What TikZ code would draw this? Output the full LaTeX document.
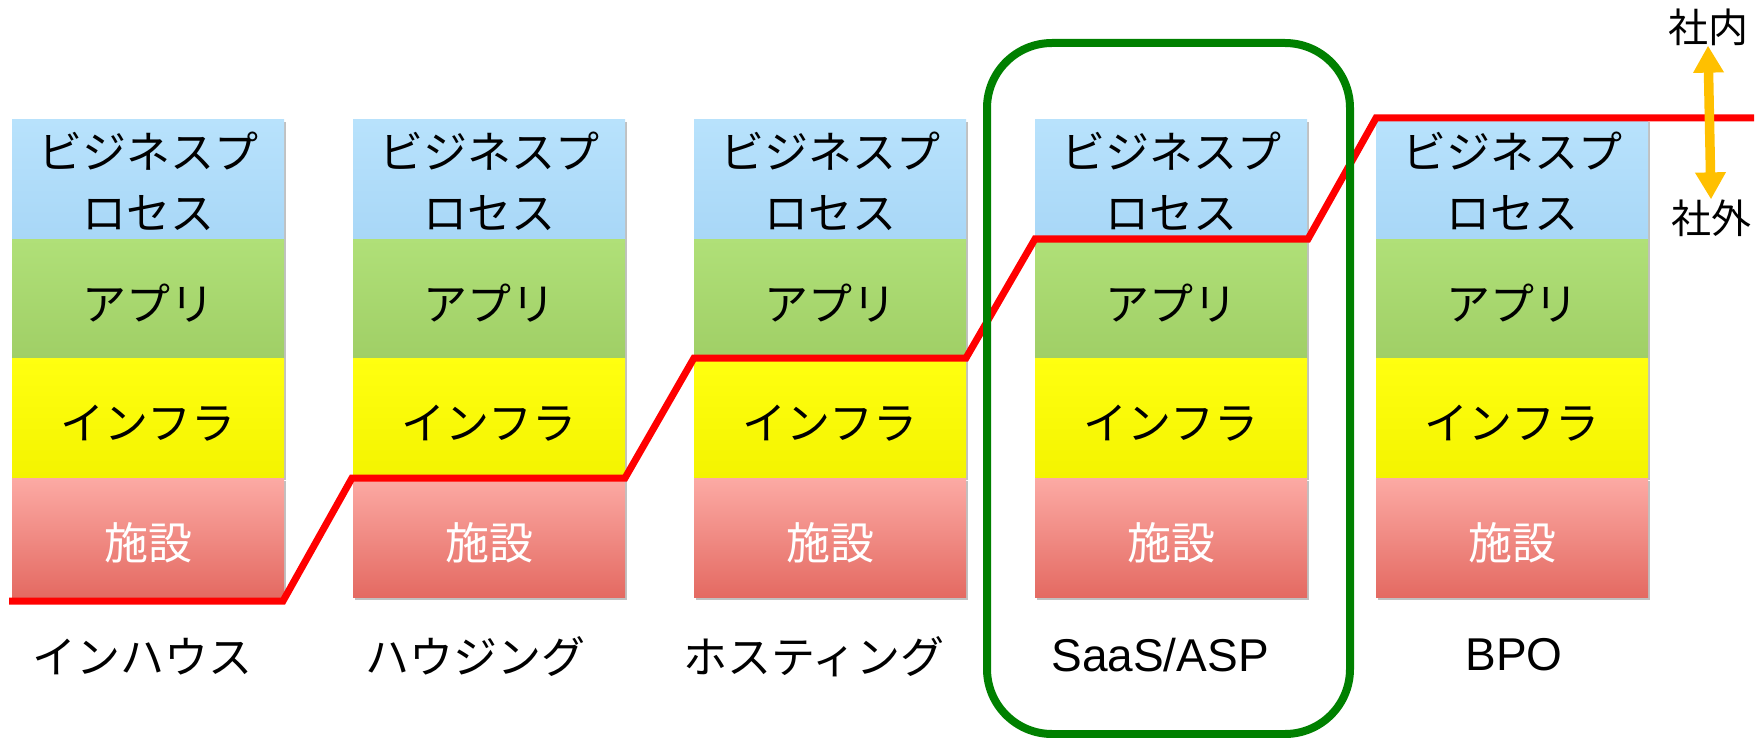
\documentclass[tikz,border=0pt]{standalone}
\usepackage{fontspec}
\setmainfont{Noto Sans CJK JP}
\newfontfamily\latinfont{Liberation Sans}
\usetikzlibrary{arrows.meta,shadows}
\definecolor{bpT}{HTML}{B8E2FC}
\definecolor{bpB}{HTML}{A8D7F7}
\definecolor{apT}{HTML}{B0E078}
\definecolor{apB}{HTML}{A0CF66}
\definecolor{inT}{HTML}{FFFF10}
\definecolor{inB}{HTML}{F4F400}
\definecolor{faT}{HTML}{FCAAA4}
\definecolor{faB}{HTML}{E46A62}
\definecolor{redline}{HTML}{FF0000}
\definecolor{saasgreen}{HTML}{008000}
\definecolor{arroworange}{HTML}{FFC000}
\newcommand{\jpbig}{\fontsize{44pt}{61pt}\selectfont}
\newcommand{\jpmid}{\fontsize{40pt}{48pt}\selectfont}
\newcommand{\ltbig}{\latinfont\fontsize{46pt}{52pt}\selectfont}
\newcommand{\lowered}[2]{\raisebox{-#1}[\height][\depth]{#2}}
\begin{document}
\begin{tikzpicture}[x=1pt,y=-1pt,
  layer/.style={anchor=north west, minimum width=272pt, minimum height=119pt,
    inner sep=0pt, outer sep=0pt, align=center, font=\jpbig,
    drop shadow={shadow xshift=1.5pt,shadow yshift=-2.5pt,opacity=0.35,fill=black!70}},
  bplayer/.style={layer, top color=bpT, bottom color=bpB},
  aplayer/.style={layer, top color=apT, bottom color=apB},
  inlayer/.style={layer, top color=inT, bottom color=inB},
  falayer/.style={layer, top color=faT, bottom color=faB, text=white},
  jplabel/.style={font=\jpbig, inner sep=0pt},
  ltlabel/.style={font=\ltbig, inner sep=0pt},
  sidelabel/.style={font=\jpmid, inner sep=0pt},
  stepline/.style={draw=redline, line width=7pt},
  saasframe/.style={draw=saasgreen, line width=8pt, rounded corners=65pt},
  dirarrow/.style={draw=arroworange, line width=9.5pt,
    {Triangle[width=29pt,length=27pt]}-{Triangle[width=29pt,length=27pt]}}
]
\useasboundingbox (0,0) rectangle (1764,738);

% columns of layers
\foreach \i in {1,...,5}{
  \pgfmathsetmacro{\xx}{12+341*(\i-1)}
  \node[bplayer] (bp\i)  at (\xx,120) {\lowered{2pt}{ビジネスプ}\\\lowered{2pt}{ロセス}};
  \node[aplayer] (ap\i)  at (\xx,239) {\lowered{5pt}{アプリ}};
  \node[inlayer] (in\i)  at (\xx,358) {\lowered{6pt}{インフラ}};
  \node[falayer] (fa\i)  at (\xx,478) {\lowered{5pt}{施設}};
}

% red boundary line
\draw[stepline] (9,601) -- (283,601) -- (352,478) -- (625,478) -- (694,358)
  -- (966,358) -- (1035,239) -- (1308,239) -- (1376,118) -- (1754,118);

% SaaS frame
\draw[saasframe] (987,43) rectangle (1350,734);

% bottom labels
\node[jplabel] (l1) at (142,657) {インハウス};
\node[jplabel] (l2) at (475,657) {ハウジング};
\node[jplabel] (l3) at (814,657) {ホスティング};
\node[ltlabel] (l4) at (1160,655) {SaaS/ASP};
\node[ltlabel] (l5) at (1514,655) {BPO};

% inside / outside
\node[sidelabel] (naibu) at (1708,27) {社内};
\node[sidelabel] (gaibu) at (1711,218) {社外};
\draw[dirarrow] (naibu.south) -- (gaibu.north);
\end{tikzpicture}
\end{document}
